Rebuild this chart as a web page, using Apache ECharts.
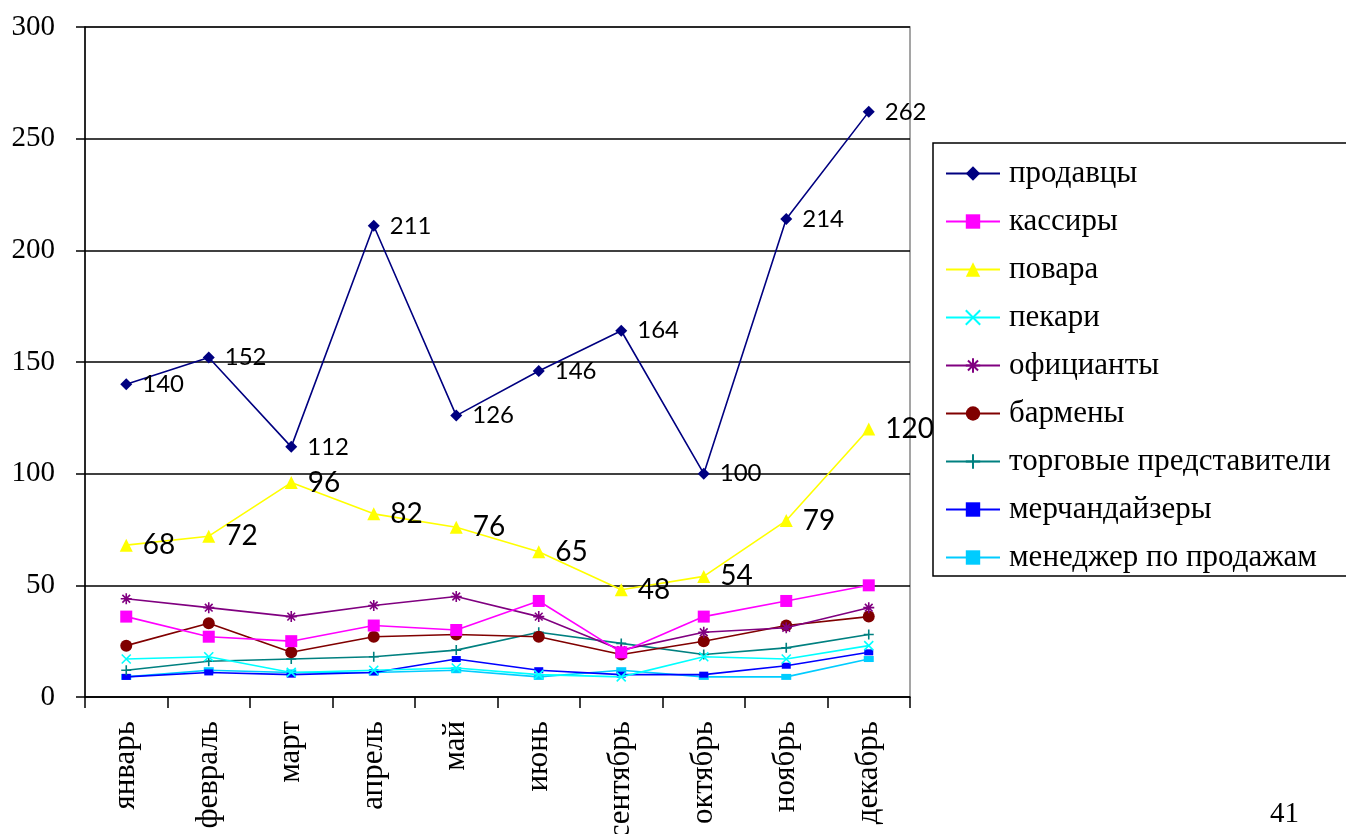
<!DOCTYPE html>
<html><head><meta charset="utf-8">
<script src="https://cdn.jsdelivr.net/npm/echarts@6/dist/echarts.min.js"></script>
<style>html,body{margin:0;padding:0;background:#fff}#c{width:1346px;height:834px}</style>
</head><body><div id="c"></div>
<script>
const categories = ['январь','февраль','март','апрель','май','июнь','сентябрь','октябрь','ноябрь','декабрь'];
const seriesNames = ['продавцы','кассиры','повара','пекари','официанты','бармены','торговые представители','мерчандайзеры','менеджер по продажам'];
const prodavtsy = [140,152,112,211,126,146,164,100,214,262];
const kassiry = [36,27,25,32,30,43,20,36,43,50];
const povara = [68,72,96,82,76,65,48,54,79,120];
const pekari = [17,18,11,12,13,10,9,18,17,23];
const ofitsianty = [44,40,36,41,45,36,21,29,31,40];
const barmeny = [23,33,20,27,28,27,19,25,32,36];
const torgovye = [12,16,17,18,21,29,24,19,22,28];
const merch = [9,11,10,11,17,12,10,10,14,20];
const menedzher = [9,12,11,11,12,9,12,9,9,17];
const yTicks = {min:0,max:300,interval:50};

const values = [prodavtsy,kassiry,povara,pekari,ofitsianty,barmeny,torgovye,merch,menedzher];
const colors = ['#000080','#FF00FF','#FFFF00','#00FFFF','#800080','#800000','#008080','#0000FF','#00CCFF'];
const symbols = ['diamond','rect','triangle','path://M0,0L10,10M10,0L0,10','path://M0,5L10,5M5,0L5,10M1.5,1.5L8.5,8.5M8.5,1.5L1.5,8.5','circle','path://M0,5L10,5M5,0L5,10','rect','rect'];
const sizes = [12,12,13,9,11,12,10,[9,6],[10,6]];
const strokeSym = [false,false,false,true,true,false,true,false,false];

const series = seriesNames.map((n,i)=>{
  const s = {
    name:n, type:'line', data:values[i], symbol:symbols[i], symbolSize:sizes[i],
    showAllSymbol:true,
    lineStyle:{color:colors[i], width:1.6},
    itemStyle:{color:colors[i], borderColor:colors[i], borderWidth: strokeSym[i]?1.6:0},
    emphasis:{disabled:true}, animation:false, z: 10-i
  };
  if(i===0){ s.label={show:true, position:'right', distance:10, fontFamily:'Lato', fontSize:24, color:'#000'}; }
  if(i===2){ s.label={show:true, position:'right', distance:10, fontFamily:'Lato', fontSize:28, color:'#000'}; }
  return s;
});

const chart = echarts.init(document.getElementById('c'));
chart.setOption({
  backgroundColor:'#fff',
  animation:false,
  grid:{left:85, top:27, right:436, bottom:137, show:true, borderColor:'#888', borderWidth:1.5, backgroundColor:'transparent', containLabel:false, outerBoundsMode:'none'},
  xAxis:{type:'category', data:categories, boundaryGap:true,
    axisLine:{lineStyle:{color:'#000', width:1.5}},
    axisTick:{show:true, alignWithLabel:false, length:11, lineStyle:{color:'#000', width:1.5}},
    axisLabel:{rotate:90, margin:24, fontFamily:'Liberation Serif', fontSize:31, color:'#000', interval:0},
    splitLine:{show:false}},
  yAxis:{type:'value', min:yTicks.min, max:yTicks.max, interval:yTicks.interval,
    axisLine:{show:true, lineStyle:{color:'#000', width:1.5}},
    axisTick:{show:true, length:9, lineStyle:{color:'#000', width:1.5}},
    axisLabel:{margin:30, fontFamily:'Liberation Serif', fontSize:29, color:'#000'},
    splitLine:{show:true, lineStyle:{color:'#000', width:1.5}}},
  legend:{orient:'vertical', left:933, top:143, itemWidth:54, itemHeight:18, itemGap:17,
    padding:[15,40,3,12], borderColor:'#000', borderWidth:1.5,
    textStyle:{fontFamily:'Liberation Serif', fontSize:31, color:'#000', padding:[0,0,0,4]},
    data:seriesNames},
  graphic:[{type:'text', left:1270, top:800, style:{text:'41', font:'29px "Liberation Serif"', fill:'#000'}}],
  series:series
});
</script></body></html>
